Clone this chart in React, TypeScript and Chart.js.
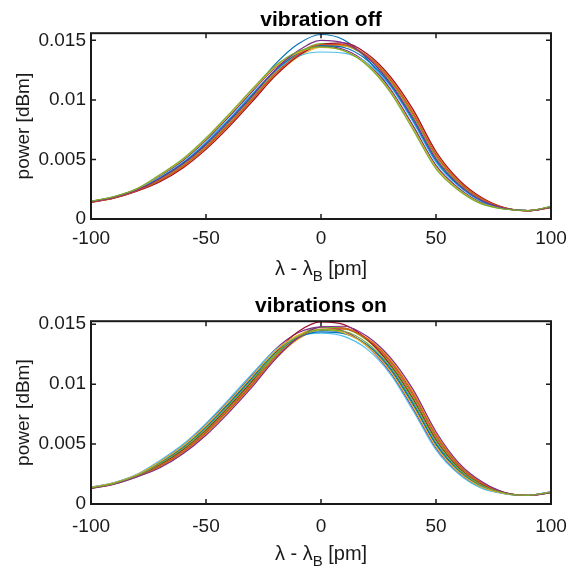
import React, { useEffect, useRef } from "react";
import { Chart, registerables } from "chart.js";

Chart.register(...registerables);

// ---------- data ----------
const lambdaPm = [-100, -90, -80, -70, -60, -50, -40, -30, -20, -10, 0, 10, 20, 30, 40, 50, 60, 70, 80, 90, 100];
const xTickValues = [-100, -50, 0, 50, 100];
const xTickLabels = ["-100", "-50", "0", "50", "100"];
const yTickValues = [0, 0.005, 0.01, 0.015];
const yTickLabels = ["0", "0.005", "0.01", "0.015"];
const topTitle = "vibration off";
const bottomTitle = "vibrations on";
const yLabel = "power [dBm]";
const xLabelMain = "λ - λ";
const xLabelSub = "B";
const xLabelTail = " [pm]";

const lineColors = ["#0072BD", "#D95319", "#EDB120", "#7E2F8E", "#77AC30", "#4DBEEE", "#A2142F"];

// vibration off – individual sweeps
const offRun01 = [.00148, .00186, .00251, .00362, .00492, .00662, .00860, .01070, .01298, .01469, .01549, .01503, .01343, .01093, .00782, .00449, .00255, .00135, .00085, .00070, .00102];
const offRun02 = [.00142, .00178, .00239, .00329, .00448, .00608, .00800, .01010, .01220, .01378, .01456, .01453, .01360, .01168, .00878, .00531, .00306, .00165, .00091, .00070, .00098];
const offRun03 = [.00140, .00176, .00235, .00318, .00434, .00590, .00780, .00990, .01200, .01360, .01444, .01451, .01372, .01193, .00910, .00559, .00323, .00175, .00093, .00069, .00096];
const offRun04 = [.00148, .00186, .00251, .00362, .00492, .00662, .00860, .01070, .01268, .01399, .01449, .01423, .01308, .01093, .00782, .00449, .00255, .00135, .00085, .00070, .00102];
const offRun05 = [.00143, .00180, .00241, .00334, .00456, .00617, .00810, .01020, .01234, .01394, .01473, .01462, .01358, .01155, .00862, .00518, .00297, .00160, .00090, .00070, .00099];
const offRun06 = [.00146, .00183, .00247, .00351, .00477, .00644, .00840, .01050, .01243, .01365, .01402, .01392, .01310, .01118, .00814, .00476, .00272, .00145, .00087, .00070, .00101];
const offRun07 = [.00140, .00175, .00234, .00314, .00429, .00585, .00774, .00984, .01199, .01368, .01462, .01478, .01388, .01200, .00920, .00567, .00328, .00178, .00094, .00069, .00096];
const offRun08 = [.00145, .00182, .00245, .00345, .00470, .00635, .00830, .01040, .01245, .01390, .01455, .01440, .01335, .01130, .00830, .00490, .00280, .00150, .00088, .00070, .00100];
const offRun09 = [.00141, .00177, .00237, .00323, .00441, .00599, .00790, .01000, .01215, .01380, .01465, .01464, .01371, .01180, .00894, .00545, .00314, .00170, .00092, .00069, .00097];
const offRun10 = [.00149, .00187, .00253, .00367, .00499, .00671, .00870, .01080, .01274, .01397, .01440, .01412, .01297, .01080, .00766, .00435, .00246, .00130, .00084, .00071, .00103];
const offRun11 = [.00144, .00181, .00243, .00340, .00463, .00626, .00820, .01030, .01250, .01412, .01500, .01478, .01358, .01143, .00846, .00504, .00289, .00155, .00089, .00070, .00099];
const offRun12 = [.00150, .00188, .00255, .00373, .00506, .00680, .00880, .01090, .01284, .01406, .01446, .01413, .01291, .01068, .00750, .00421, .00238, .00125, .00083, .00071, .00104];
const offRuns = [offRun01, offRun02, offRun03, offRun04, offRun05, offRun06, offRun07, offRun08, offRun09, offRun10, offRun11, offRun12];

// vibrations on – individual sweeps
const onRun01 = [.00137, .00175, .00242, .00346, .00477, .00646, .00845, .01055, .01263, .01400, .01448, .01427, .01324, .01125, .00828, .00493, .00273, .00145, .00088, .00072, .00100];
const onRun02 = [.00132, .00168, .00232, .00319, .00440, .00601, .00795, .01005, .01230, .01398, .01476, .01470, .01375, .01188, .00908, .00561, .00316, .00170, .00093, .00072, .00096];
const onRun03 = [.00130, .00166, .00228, .00308, .00426, .00583, .00775, .00985, .01206, .01374, .01454, .01460, .01384, .01213, .00940, .00589, .00333, .00180, .00095, .00071, .00094];
const onRun04 = [.00139, .00177, .00246, .00357, .00491, .00664, .00865, .01075, .01288, .01428, .01475, .01441, .01318, .01100, .00796, .00465, .00256, .00135, .00086, .00073, .00101];
const onRun05 = [.00133, .00170, .00234, .00324, .00448, .00610, .00805, .01015, .01237, .01400, .01473, .01463, .01366, .01175, .00892, .00548, .00307, .00165, .00092, .00072, .00097];
const onRun06 = [.00140, .00178, .00248, .00363, .00498, .00673, .00875, .01085, .01282, .01398, .01426, .01398, .01292, .01088, .00780, .00451, .00248, .00130, .00085, .00073, .00102];
const onRun07 = [.00134, .00171, .00236, .00330, .00455, .00619, .00815, .01025, .01259, .01437, .01519, .01496, .01374, .01163, .00876, .00534, .00299, .00160, .00091, .00072, .00097];
const onRun08 = [.00136, .00173, .00240, .00341, .00469, .00637, .00835, .01045, .01251, .01388, .01436, .01422, .01328, .01138, .00844, .00506, .00282, .00150, .00089, .00072, .00099];
const onRun09 = [.00131, .00167, .00230, .00313, .00433, .00592, .00785, .00995, .01217, .01383, .01460, .01461, .01378, .01200, .00924, .00575, .00324, .00175, .00094, .00071, .00095];
const onRun10 = [.00138, .00176, .00244, .00352, .00484, .00655, .00855, .01065, .01273, .01409, .01454, .01428, .01318, .01113, .00812, .00479, .00265, .00140, .00087, .00073, .00100];
const onRun11 = [.00129, .00165, .00226, .00302, .00419, .00574, .00765, .00975, .01205, .01386, .01478, .01483, .01400, .01225, .00956, .00603, .00341, .00185, .00096, .00071, .00094];
const onRun12 = [.00135, .00172, .00238, .00335, .00462, .00628, .00825, .01035, .01249, .01397, .01455, .01441, .01343, .01150, .00860, .00520, .00290, .00155, .00090, .00072, .00098];
const onRuns = [onRun01, onRun02, onRun03, onRun04, onRun05, onRun06, onRun07, onRun08, onRun09, onRun10, onRun11, onRun12];

// ---------- styling ----------
const FONT = "'Liberation Sans', Arial, Helvetica, sans-serif";
const INK = "#1a1a1a";
const WIDTH = 569;

const framePlugin = {
  id: "matlabFrame",
  afterDatasetsDraw(chart: any) {
    const { ctx, chartArea: a, scales } = chart;
    const xs = scales.x;
    const ys = scales.y;
    ctx.save();
    ctx.strokeStyle = INK;
    ctx.lineWidth = 1.5;
    ctx.beginPath();
    xs.ticks.forEach((t: any) => {
      const px = xs.getPixelForValue(t.value);
      ctx.moveTo(px, a.bottom);
      ctx.lineTo(px, a.bottom - 5);
      ctx.moveTo(px, a.top);
      ctx.lineTo(px, a.top + 5);
    });
    ys.ticks.forEach((t: any) => {
      const py = ys.getPixelForValue(t.value);
      ctx.moveTo(a.left, py);
      ctx.lineTo(a.left + 5, py);
      ctx.moveTo(a.right, py);
      ctx.lineTo(a.right - 5, py);
    });
    ctx.stroke();
    ctx.lineWidth = 2;
    ctx.strokeRect(a.left, a.top, a.right - a.left, a.bottom - a.top);

    // x-axis label with subscript
    const mainFont = `20px ${FONT}`;
    const subFont = `15px ${FONT}`;
    ctx.fillStyle = INK;
    ctx.textBaseline = "alphabetic";
    ctx.textAlign = "left";
    ctx.font = mainFont;
    const w1 = ctx.measureText(xLabelMain).width;
    const w3 = ctx.measureText(xLabelTail).width;
    ctx.font = subFont;
    const w2 = ctx.measureText(xLabelSub).width;
    const total = w1 + w2 + w3;
    const cx = (a.left + a.right) / 2;
    const base = a.bottom + 56;
    let x0 = cx - total / 2;
    ctx.font = mainFont;
    ctx.fillText(xLabelMain, x0, base);
    x0 += w1;
    ctx.font = subFont;
    ctx.fillText(xLabelSub, x0, base + 6);
    x0 += w2;
    ctx.font = mainFont;
    ctx.fillText(xLabelTail, x0, base);
    ctx.restore();
  },
};

type PanelProps = {
  title: string;
  runs: number[][];
  yMax: number;
  height: number;
  titlePad: { top: number; bottom: number };
  xTickPad: number;
};

function Panel({ title, runs, yMax, height, titlePad, xTickPad }: PanelProps) {
  const ref = useRef<HTMLCanvasElement>(null);
  useEffect(() => {
    const canvas = ref.current;
    if (!canvas) return;
    const xAxisHeight = height - 219;
    const chart = new Chart(canvas, {
      type: "line",
      data: {
        datasets: runs.map((run, i) => ({
          data: run.map((y, j) => ({ x: lambdaPm[j], y })),
          borderColor: lineColors[i % lineColors.length],
          backgroundColor: lineColors[i % lineColors.length],
          borderWidth: 1.2,
          pointRadius: 0,
          fill: false,
          cubicInterpolationMode: "monotone",
          order: -i,
        })),
      },
      options: {
        animation: false,
        responsive: false,
        maintainAspectRatio: false,
        events: [],
        layout: { padding: { left: 0, right: 18, top: 0, bottom: 0 } },
        plugins: {
          legend: { display: false },
          tooltip: { enabled: false },
          title: {
            display: true,
            text: title,
            fullSize: false,
            color: "#000",
            font: { family: FONT, size: 21, weight: "bold", lineHeight: 1.2 },
            padding: titlePad,
          },
        },
        scales: {
          x: {
            type: "linear",
            min: -100,
            max: 100,
            afterBuildTicks: (s: any) => {
              s.ticks = xTickValues.map((v) => ({ value: v }));
            },
            afterFit: (s: any) => {
              s.height = xAxisHeight;
              s.paddingLeft = 0;
              s.paddingRight = 0;
            },
            grid: { display: false, drawTicks: false },
            border: { display: false },
            ticks: {
              autoSkip: false,
              maxRotation: 0,
              padding: xTickPad,
              color: INK,
              font: { family: FONT, size: 19 },
              callback: (_v: any, idx: number) => xTickLabels[idx],
            },
          },
          y: {
            type: "linear",
            min: 0,
            max: yMax,
            afterBuildTicks: (s: any) => {
              s.ticks = yTickValues.map((v) => ({ value: v }));
            },
            afterFit: (s: any) => {
              s.width = 91;
              s.paddingTop = 0;
              s.paddingBottom = 0;
            },
            grid: { display: false, drawTicks: false },
            border: { display: false },
            ticks: {
              autoSkip: false,
              padding: 5,
              color: INK,
              font: { family: FONT, size: 19 },
              callback: (_v: any, idx: number) => yTickLabels[idx],
            },
            title: {
              display: true,
              text: yLabel,
              color: INK,
              font: { family: FONT, size: 19, lineHeight: 1.2 },
              padding: { top: 12, bottom: 0 },
            },
          },
        },
      },
      plugins: [framePlugin],
    } as any);
    return () => chart.destroy();
  }, [title, runs, yMax, height, titlePad, xTickPad]);
  return <canvas ref={ref} width={WIDTH} height={height} style={{ display: "block", width: WIDTH, height }} />;
}

const topPad = { top: 8, bottom: 0 };
const bottomPad = { top: 9, bottom: 2 };

export default function App() {
  return (
    <div style={{ position: "absolute", left: 0, top: 0, width: WIDTH, height: 571, background: "#fff" }}>
      <Panel title={topTitle} runs={offRuns} yMax={0.0156} height={285} titlePad={topPad} xTickPad={8} />
      <Panel title={bottomTitle} runs={onRuns} yMax={0.01525} height={286} titlePad={bottomPad} xTickPad={11} />
    </div>
  );
}
